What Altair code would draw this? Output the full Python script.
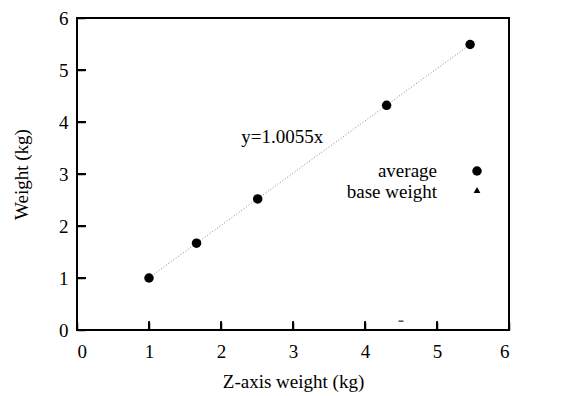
import altair as alt
import pandas as pd

# data
z_weight = [1.0, 1.66, 2.51, 4.30, 5.46]
avg_weight = [1.0, 1.67, 2.52, 4.32, 5.49]
slope = 1.0055
fit_x = [1.0, 5.46]
base_x = [4.5]
base_y = [0.17]
ticks = [1.0, 2.0, 3.0, 4.0, 5.0]
tick_labels = [0, 1, 2, 3, 4, 5, 6]
legend_labels = ["average", "base weight"]
eq_label = "y=1.0055x"

W, H = 432, 312
FONT = "Liberation Serif"

pts = pd.DataFrame({"x": z_weight, "y": avg_weight})
fit = pd.DataFrame({"x": fit_x, "y": [slope * v for v in fit_x]})

# inward tick marks as thin filled rectangles (half-width 0.014 units ~ 1px, length ~9px)
hw_x, len_x = 0.014, 0.17
hw_y, len_y = 0.019, 0.125
xtk = pd.DataFrame({"a": [t - hw_x for t in ticks], "b": [t + hw_x for t in ticks],
                    "c": [0.0] * 5, "d": [len_x] * 5})
ytk = pd.DataFrame({"a": [0.0] * 5, "b": [len_y] * 5,
                    "c": [t - hw_y for t in ticks], "d": [t + hw_y for t in ticks]})

xs = alt.Scale(domain=[0, 6], nice=False, zero=False)
ys = alt.Scale(domain=[0, 6], nice=False, zero=False)

xax = alt.Axis(values=tick_labels, format="d", offset=-8, ticks=True, tickSize=8,
               tickWidth=1.5, tickColor="black", labelPadding=12,
               title="Z-axis weight (kg)", titlePadding=11)
yax = alt.Axis(values=tick_labels, format="d", offset=-8, ticks=True, tickSize=8,
               tickWidth=1.5, tickColor="black", labelPadding=9,
               title="Weight  (kg)", titlePadding=27)

line = alt.Chart(fit).mark_line(color="#888888", strokeWidth=1, strokeDash=[1, 2]).encode(
    x=alt.X("x:Q", scale=xs, axis=xax), y=alt.Y("y:Q", scale=ys, axis=yax))

xt = alt.Chart(xtk).mark_rect(color="black", opacity=1).encode(
    x=alt.X("a:Q", scale=xs, axis=xax), x2="b:Q",
    y=alt.Y("c:Q", scale=ys, axis=yax), y2="d:Q")
yt = alt.Chart(ytk).mark_rect(color="black", opacity=1).encode(
    x=alt.X("a:Q", scale=xs, axis=xax), x2="b:Q",
    y=alt.Y("c:Q", scale=ys, axis=yax), y2="d:Q")

points = alt.Chart(pts).mark_point(filled=True, shape="circle", size=90, color="black", opacity=1).encode(
    x=alt.X("x:Q", scale=xs, axis=xax), y=alt.Y("y:Q", scale=ys, axis=yax))

base = alt.Chart(pd.DataFrame({"x": base_x, "y": base_y})).mark_tick(
    orient="horizontal", size=5, thickness=1.5, color="black").encode(
    x=alt.X("x:Q", scale=xs, axis=xax), y=alt.Y("y:Q", scale=ys, axis=yax))

eq = alt.Chart(pd.DataFrame({"x": [2.85], "y": [3.72], "t": [eq_label]})).mark_text(
    font=FONT, fontSize=19, color="black").encode(
    x=alt.X("x:Q", scale=xs, axis=xax), y=alt.Y("y:Q", scale=ys, axis=yax), text="t:N")

leg_txt = alt.Chart(pd.DataFrame({"t": legend_labels, "yy": [153, 174]})).mark_text(
    font=FONT, fontSize=19, color="black", align="right", baseline="middle").encode(
    x=alt.value(360), y=alt.Y("yy:Q", scale=None), text="t:N")
leg_c = alt.Chart(pd.DataFrame({"a": [0]})).mark_point(
    filled=True, shape="circle", size=90, color="black", opacity=1).encode(
    x=alt.value(400), y=alt.value(153))
leg_t = alt.Chart(pd.DataFrame({"a": [0]})).mark_point(
    filled=True, shape="triangle-up", size=45, color="black", opacity=1).encode(
    x=alt.value(400), y=alt.value(172))

chart = alt.layer(line, xt, yt, base, points, eq, leg_txt, leg_c, leg_t).properties(
    width=W, height=H,
    autosize=alt.AutoSizeParams(type="none"),
    padding={"left": 69, "top": 10, "right": 10, "bottom": 66},
    background="white",
).configure_view(stroke="black", strokeWidth=2
).configure_axis(
    grid=False, domain=False,
    labelFont=FONT, labelFontSize=19, labelColor="black",
    titleFont=FONT, titleFontSize=19, titleFontWeight="normal", titleColor="black",
)

chart.save("out.html", embed_options={"renderer": "svg", "actions": False})
